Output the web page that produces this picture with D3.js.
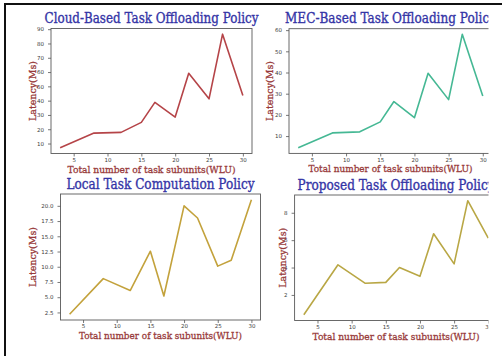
<!DOCTYPE html>
<html>
<head>
<meta charset="utf-8">
<script src="https://cdn.jsdelivr.net/npm/d3@7"></script>
<style>
  body { margin: 0; background: #fff; }
</style>
</head>
<body>
<div id="svgContainer"></div>
<script>
// data
var taskUnits = [3, 8, 12, 15, 17, 20, 22, 25, 27, 30];
var cloudLatency = [7, 17.3, 17.8, 24.8, 38.8, 28.5, 59.2, 41.3, 86.5, 43.6];
var mecLatency = [4.5, 11.5, 12, 16.7, 26.3, 18.7, 39.6, 27.2, 58, 28.9];
var localLatency = [2.2, 8.05, 6.1, 12.55, 5.2, 20, 18, 10.1, 11.05, 21];
var proposedLatency = [0.55, 4.2, 2.85, 2.92, 4.0, 3.36, 6.47, 4.27, 8.88, 6.15];

var xTicks = [5, 10, 15, 20, 25, 30];
var cloudTicks = [10, 20, 30, 40, 50, 60, 70, 80, 90];
var mecTicks = [10, 20, 30, 40, 50, 60];
var localTicks = [2.5, 5.0, 7.5, 10.0, 12.5, 15.0, 17.5, 20.0];
var proposedTicks = [2, 4, 6, 8];

var titles = ["Cloud-Based Task Offloading Policy", "MEC-Based Task Offloading Policy",
              "Local Task Computation Policy", "Proposed Task Offloading Policy"];
var xLabel = "Total number of task subunits(WLU)";
var yLabel = "Latency(Ms)";

var svgWidth = 502, svgHeight = 356;
var svg = d3.select("#svgContainer").append("svg")
    .attr("width", svgWidth)
    .attr("height", svgHeight)
    .style("display", "block");

var titleColor = "#3434a6";
var labelColor = "#983a3a";

var panels = [
  {title: titles[0], values: cloudLatency, ticks: cloudTicks, fmt: d3.format("d"), color: "#b54448",
   x0: 51, x1: 252, y0: 28.5, y1: 153.5, ylabX: 32, titleW: 214, xlabW: 168},
  {title: titles[1], values: mecLatency, ticks: mecTicks, fmt: d3.format("d"), color: "#45b894",
   x0: 289, x1: 492, y0: 28.7, y1: 153.4, ylabX: 269, titleW: 211, xlabW: 164},
  {title: titles[2], values: localLatency, ticks: localTicks, fmt: d3.format(".1f"), color: "#c3a23c",
   x0: 60.5, x1: 260.5, y0: 194, y1: 320, ylabX: 32, titleW: 188, xlabW: 163},
  {title: titles[3], values: proposedLatency, ticks: proposedTicks, fmt: d3.format("d"), color: "#b9a745",
   x0: 294.6, x1: 497.5, y0: 195, y1: 320.5, ylabX: 282, titleW: 197, xlabW: 167}
];

function pad(ext) {
  var m = (ext[1] - ext[0]) * 0.05;
  return [ext[0] - m, ext[1] + m];
}

panels.forEach(function(p) {
  var x = d3.scaleLinear().domain(pad(d3.extent(taskUnits))).range([p.x0, p.x1]);
  var y = d3.scaleLinear().domain(pad(d3.extent(p.values))).range([p.y1, p.y0]);
  var g = svg.append("g");

  // frame
  g.append("rect")
    .attr("x", p.x0).attr("y", p.y0)
    .attr("width", p.x1 - p.x0).attr("height", p.y1 - p.y0)
    .attr("fill", "none").attr("stroke", "#5a5a5a").attr("stroke-width", 0.9);

  var xa = g.append("g")
    .attr("transform", "translate(0," + p.y1 + ")")
    .call(d3.axisBottom(x).tickValues(xTicks).tickSize(3).tickPadding(1.5).tickFormat(d3.format("d")));
  var ya = g.append("g")
    .attr("transform", "translate(" + p.x0 + ",0)")
    .call(d3.axisLeft(y).tickValues(p.ticks).tickSize(3).tickPadding(4).tickFormat(p.fmt));
  [xa, ya].forEach(function(a) {
    a.select(".domain").remove();
    a.selectAll("line").attr("stroke", "#555").attr("stroke-width", 0.8);
    a.selectAll("text").attr("fill", "#3a3a3a")
      .style("font-family", "DejaVu Sans").style("font-size", "5.5px");
  });

  var line = d3.line().x(function(d, i) { return x(taskUnits[i]); }).y(function(d) { return y(d); });
  g.append("path")
    .datum(p.values)
    .attr("d", line)
    .attr("fill", "none")
    .attr("stroke", p.color)
    .attr("stroke-width", 1.6)
    .attr("stroke-linejoin", "round");

  var cx = (p.x0 + p.x1) / 2;
  g.append("text")
    .attr("x", cx).attr("y", p.y0 - 5.5)
    .attr("text-anchor", "middle")
    .attr("textLength", p.titleW).attr("lengthAdjust", "spacingAndGlyphs")
    .attr("fill", titleColor)
    .attr("stroke", titleColor).attr("stroke-width", 0.35)
    .style("font-family", "DejaVu Serif").style("font-size", "14px")
    .text(p.title);

  g.append("text")
    .attr("x", cx).attr("y", p.y1 + 19)
    .attr("text-anchor", "middle")
    .attr("textLength", p.xlabW).attr("lengthAdjust", "spacingAndGlyphs")
    .attr("fill", labelColor)
    .attr("stroke", labelColor).attr("stroke-width", 0.3)
    .style("font-family", "DejaVu Serif").style("font-size", "10px")
    .text(xLabel);

  g.append("text")
    .attr("transform", "translate(" + p.ylabX + "," + ((p.y0 + p.y1) / 2) + ") rotate(-90)")
    .attr("dy", "0.35em")
    .attr("text-anchor", "middle")
    .attr("textLength", 60).attr("lengthAdjust", "spacingAndGlyphs")
    .attr("fill", labelColor)
    .attr("stroke", labelColor).attr("stroke-width", 0.3)
    .style("font-family", "DejaVu Serif").style("font-size", "10px")
    .text(yLabel);
});

// the source figure is cut off on the right
svg.append("rect").attr("x", 488.5).attr("y", 6).attr("width", 14).attr("height", svgHeight)
  .attr("fill", "#fff");

// outer frame (top and left only)
svg.append("line").attr("x1", 4).attr("x2", svgWidth).attr("y1", 4).attr("y2", 4)
  .attr("stroke", "#111").attr("stroke-width", 2);
svg.append("line").attr("x1", 5).attr("x2", 5).attr("y1", 3).attr("y2", svgHeight)
  .attr("stroke", "#111").attr("stroke-width", 2);
</script>
</body>
</html>
